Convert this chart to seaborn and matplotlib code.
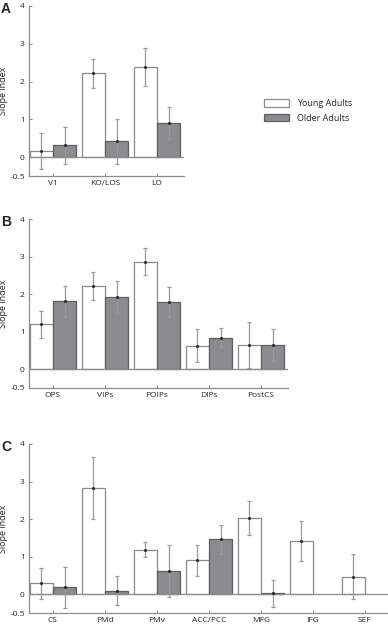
import seaborn as sns
import matplotlib.pyplot as plt
from matplotlib.patches import Patch
import pandas as pd

# values (mean slope index and half error bar)
groups = ["Young Adults", "Older Adults"]

regions_a = ["V1", "KO/LOS", "LO"]
young_a = [0.16, 2.22, 2.38]
young_err_a = [0.48, 0.39, 0.51]
older_a = [0.31, 0.42, 0.91]
older_err_a = [0.48, 0.59, 0.42]

regions_b = ["OPS", "VIPs", "POIPs", "DIPs", "PostCS"]
young_b = [1.20, 2.22, 2.86, 0.62, 0.65]
young_err_b = [0.36, 0.37, 0.36, 0.44, 0.61]
older_b = [1.81, 1.93, 1.78, 0.84, 0.64]
older_err_b = [0.41, 0.42, 0.40, 0.26, 0.43]

regions_c = ["CS", "PMd", "PMv", "ACC/PCC", "MFG", "IFG", "SEF"]
young_c = [0.29, 2.82, 1.19, 0.90, 2.04, 1.41, 0.46]
young_err_c = [0.41, 0.83, 0.20, 0.41, 0.45, 0.53, 0.60]
older_c = [0.18, 0.09, 0.61, 1.46, 0.03, None, None]
older_err_c = [0.54, 0.39, 0.69, 0.39, 0.36, None, None]

yticks = [-0.5, 0, 1, 2, 3, 4]
ytick_labels = ["-0.5", "0", "1", "2", "3", "4"]

fill = {"Young Adults": "#ffffff", "Older Adults": "#8c8c90"}
edge = {"Young Adults": "#8a8a8a", "Older Adults": "#5e5e5e"}
axis_grey = "#8c8c8c"


def make_df(regions, young, young_err, older, older_err):
    rows = []
    for g, vals, errs in [(groups[0], young, young_err), (groups[1], older, older_err)]:
        for r, v, e in zip(regions, vals, errs):
            if v is not None:
                rows.append({"region": r, "group": g, "value": v, "err": e})
    return pd.DataFrame(rows)


sns.set_style("ticks")
plt.rcParams["font.family"] = ["Open Sans", "DejaVu Sans"]

W, H = 388, 625
fig = plt.figure(figsize=(W / 100, H / 100), dpi=100)

px_per_cat = 52
left_px = 29
panels = [
    ("A", regions_a, young_a, young_err_a, older_a, older_err_a, 6, 176),
    ("B", regions_b, young_b, young_err_b, older_b, older_err_b, 219, 388),
    ("C", regions_c, young_c, young_err_c, older_c, older_err_c, 444, 613),
]

for letter, regions, ya, ye, oa, oe, top_px, bot_px in panels:
    n = len(regions)
    span = n - 1 + 0.53 + 0.46
    width_px = span * px_per_cat
    ax = fig.add_axes([left_px / W, 1 - bot_px / H, width_px / W, (bot_px - top_px) / H])
    df = make_df(regions, ya, ye, oa, oe)

    sns.barplot(data=df, x="region", y="value", hue="group", order=regions,
                hue_order=groups, palette=fill, saturation=1, width=0.9,
                errorbar=None, legend=False, linewidth=0.9, ax=ax)

    # edges and error bars per group
    for container, g in zip(ax.containers, groups):
        sub = df[df["group"] == g]
        for bar, (_, row) in zip(container, sub.iterrows()):
            bar.set_edgecolor(edge[g])
            cx = bar.get_x() + bar.get_width() / 2
            ax.errorbar(cx, row["value"], yerr=row["err"], fmt="none",
                        ecolor="#9a9a9a", elinewidth=0.9, capsize=1.4,
                        capthick=0.9, zorder=4)
            ax.plot([cx], [row["value"]], marker="s", ms=1.0, color="#222222",
                    zorder=5)

    ax.axhline(0, color=axis_grey, lw=0.9, zorder=3)
    ax.set_xlim(-0.46, n - 1 + 0.53)
    ax.set_ylim(-0.5, 4)
    ax.set_yticks(yticks)
    ax.set_yticklabels(ytick_labels)
    ax.set_xlabel("")
    ax.set_ylabel("Slope index", fontsize=6.5, labelpad=2)
    ax.tick_params(axis="both", direction="in", length=2.5, width=0.7,
                   color=axis_grey, labelsize=6, pad=3)
    sns.despine(ax=ax)
    for s in ["left", "bottom"]:
        ax.spines[s].set_color(axis_grey)
        ax.spines[s].set_linewidth(0.9)
    ax.patch.set_alpha(0)

    fig.text(1 / W, 1 - (top_px + 3) / H, letter, fontsize=10,
             fontweight="bold", family="Liberation Sans", va="center")

handles = [Patch(facecolor=fill[g], edgecolor=edge[g], linewidth=0.9) for g in groups]
fig.legend(handles, groups, loc="center left", bbox_to_anchor=(258 / W, 1 - 111 / H),
           frameon=False, fontsize=6.5, handlelength=2.7, handleheight=0.9,
           handletextpad=0.9, labelspacing=0.6, borderpad=0.2)

fig.savefig("out.png", dpi=100)
